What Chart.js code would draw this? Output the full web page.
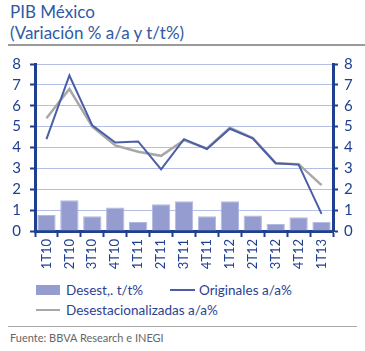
<!DOCTYPE html>
<html>
<head>
<meta charset="utf-8">
<script src="https://cdn.jsdelivr.net/npm/chart.js@4.4.0/dist/chart.umd.min.js"></script>
<style>
  body { margin: 0; background: #fff; font-family: Lato, "Open Sans", sans-serif; }
  #wrap { position: relative; width: 365px; height: 351px; overflow: hidden; }
  .title { position: absolute; left: 10px; color: #2f5aa4; font-size: 17px; line-height: 20px; }
  .rule { position: absolute; left: 8px; height: 2px; background: #9a9a9a; }
  #chartBox { position: absolute; left: 0; top: 46px; width: 365px; height: 236px; }
  .leg { position: absolute; color: #2b3f93; font-size: 13.5px; line-height: 16px; white-space: nowrap; }
  .sw { position: absolute; }
  .src { position: absolute; left: 10px; top: 331px; color: #666; font-size: 11px; }
</style>
</head>
<body>
<div id="wrap">
  <div class="title" style="top:2px">PIB México</div>
  <div class="title" style="top:23px">(Variación % a/a y t/t%)</div>
  <div class="rule" style="top:44px; width:357px"></div>
  <div id="chartBox"><canvas id="pibChart" width="365" height="236"></canvas></div>

  <div class="sw" style="left:36px; top:285px; width:24px; height:10px; background:#959dd0"></div>
  <div class="leg" style="left:66px; top:282px">Desest,. t/t%</div>
  <div class="sw" style="left:170px; top:289px; width:25px; height:2px; background:#4a5fa8"></div>
  <div class="leg" style="left:199px; top:282px">Originales a/a%</div>
  <div class="sw" style="left:36px; top:309px; width:24px; height:2px; background:#a8a8a8"></div>
  <div class="leg" style="left:66px; top:302px">Desestacionalizadas a/a%</div>

  <div class="rule" style="top:326px; width:349px; height:1px; background:#aaa"></div>
  <div class="src">Fuente: BBVA Research e INEGI</div>
</div>
<script>
// Quarters
var quarters = ['1T10', '2T10', '3T10', '4T10', '1T11', '2T11', '3T11', '4T11',
                '1T12', '2T12', '3T12', '4T12', '1T13'];

// Desest. t/t% (bars)
var desestTT = [0.77, 1.47, 0.71, 1.12, 0.43, 1.28, 1.43, 0.71, 1.42, 0.74, 0.34, 0.66, 0.44];

// Originales a/a%
var originales = [4.40, 7.45, 5.06, 4.24, 4.29, 2.95, 4.40, 3.93, 4.90, 4.44, 3.25, 3.18, 0.82];

// Desestacionalizadas a/a%
var desestAA = [5.40, 6.80, 5.00, 4.10, 3.80, 3.60, 4.35, 3.95, 4.95, 4.45, 3.25, 3.20, 2.20];

var navy = '#1f3f8f';
var tickFont = { family: 'Lato, "Open Sans", sans-serif', size: 15 };

var ctx = document.getElementById('pibChart').getContext('2d');
var pibChart = new Chart(ctx, {
    type: 'bar',
    data: {
        labels: quarters,
        datasets: [
            {
                type: 'line',
                label: 'Originales a/a%',
                data: originales,
                borderColor: '#4a5fa8',
                borderWidth: 2,
                pointRadius: 0,
                tension: 0,
                yAxisID: 'y',
                order: 1
            },
            {
                type: 'line',
                label: 'Desestacionalizadas a/a%',
                data: desestAA,
                borderColor: '#a8a8a8',
                borderWidth: 2.5,
                pointRadius: 0,
                tension: 0,
                yAxisID: 'y',
                order: 2
            },
            {
                label: 'Desest,. t/t%',
                data: desestTT,
                backgroundColor: '#959dd0',
                borderColor: '#b4bade',
                borderWidth: 1,
                barPercentage: 0.8,
                categoryPercentage: 1.0,
                yAxisID: 'y',
                order: 3
            }
        ]
    },
    options: {
        responsive: false,
        animation: false,
        layout: { padding: { top: 12, bottom: 0, left: 0, right: 0 } },
        plugins: {
            legend: { display: false },
            tooltip: { enabled: false }
        },
        scales: {
            x: {
                offset: true,
                grid: {
                    offset: true,
                    drawOnChartArea: false,
                    drawTicks: true,
                    tickLength: 6,
                    tickColor: navy,
                    tickWidth: 2
                },
                border: { color: navy, width: 3 },
                ticks: {
                    color: navy,
                    font: { family: 'Lato, "Open Sans", sans-serif', size: 13 },
                    minRotation: 90,
                    maxRotation: 90,
                    autoSkip: false,
                    padding: 2
                },
                afterFit: function (scale) { scale.height = 51; }
            },
            y: {
                position: 'left',
                min: 0,
                max: 8,
                ticks: { stepSize: 1, autoSkip: false, color: navy, font: tickFont, padding: 9 },
                grid: {
                    color: '#b3bfe6',
                    lineWidth: 1,
                    tickLength: 5,
                    tickColor: navy,
                    tickWidth: 2
                },
                border: { color: navy, width: 3 },
                afterFit: function (scale) { scale.width = 35; }
            },
            y2: {
                position: 'right',
                min: 0,
                max: 8,
                ticks: { stepSize: 1, autoSkip: false, color: navy, font: tickFont, padding: 6 },
                grid: {
                    drawOnChartArea: false,
                    tickLength: 5,
                    tickColor: navy,
                    tickWidth: 2
                },
                border: { color: navy, width: 3 },
                afterFit: function (scale) { scale.width = 32; }
            }
        }
    }
});
</script>
</body>
</html>
